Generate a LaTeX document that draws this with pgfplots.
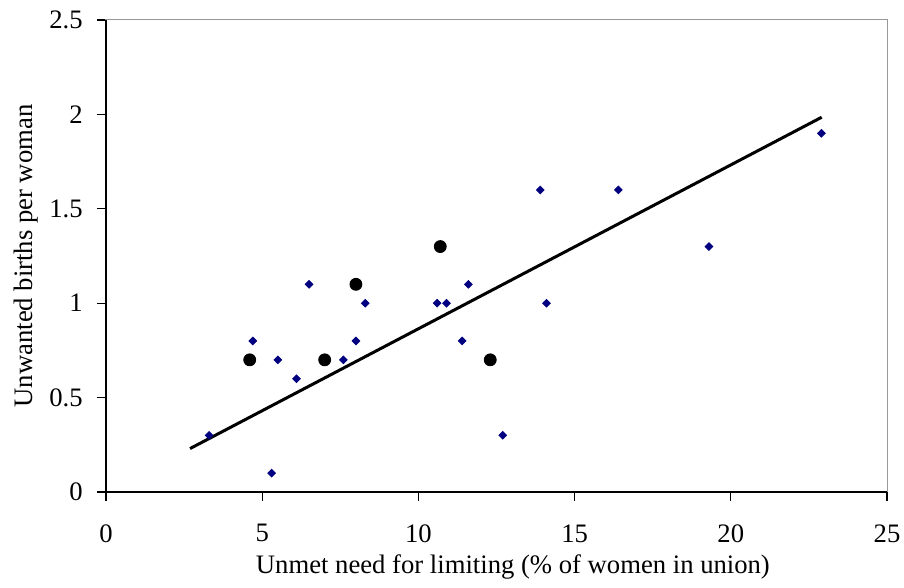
\documentclass[border=0pt]{standalone}
\usepackage{fontspec}
\setmainfont{Liberation Serif}
\usepackage{pgfplots}
\pgfplotsset{compat=1.18}
\definecolor{navy}{HTML}{000080}
\begin{document}
\fontsize{13.33}{16}\selectfont
\begin{tikzpicture}
\begin{axis}[
  at={(0,0)}, anchor=south west,
  scale only axis,
  width=390.5pt, height=236pt,
  xmin=0, xmax=25, ymin=0, ymax=2.5,
  xtick={0,5,...,25}, ytick={0,0.5,...,2.5},
  xtick pos=bottom, ytick pos=left,
  tick align=outside,
  major tick length=4.5pt,
  tick style={black, line width=0.6pt},
  axis line style={draw=gray!80, line width=0.5pt},
  /pgf/number format/assume math mode=true,
  yticklabel style={/pgf/number format/fixed, anchor=east, inner sep=0pt, xshift=-7pt},
  xticklabel style={anchor=north, inner sep=0pt, yshift=-11.5pt},
  ticklabel style={font=\fontsize{13.33}{16}\selectfont},
  clip=false,
]
\addplot[only marks, mark=square*, mark size=1.35pt, mark options={rotate=45, fill=navy, draw=navy}] coordinates {
(3.3,0.3) (4.7,0.8) (5.5,0.7) (5.3,0.1) (6.1,0.6) (6.5,1.1) (7.6,0.7) (8.0,0.8) (8.3,1.0)
(10.6,1.0) (10.9,1.0) (11.6,1.1) (11.4,0.8) (12.7,0.3) (13.9,1.6) (14.1,1.0) (16.4,1.6)
(19.3,1.3) (22.9,1.9)
};
\addplot[only marks, mark=*, mark size=3pt, mark options={fill=black, draw=black}] coordinates {
(4.6,0.7) (7.0,0.7) (8.0,1.1) (10.7,1.3) (12.3,0.7)
};
\addplot[black, line width=1.5pt, no marks] coordinates {(2.69,0.23) (22.91,1.985)};
\draw[black, line width=0.75pt] (rel axis cs:0,1) -- (rel axis cs:0,0) -- (rel axis cs:1,0);
\node[anchor=base, font=\fontsize{13.33}{16}\selectfont] at ([yshift=-40.5pt]rel axis cs:0.521,0) {Unmet need for limiting (\% of women in union)};
\node[anchor=base, rotate=90, font=\fontsize{13.33}{16}\selectfont] at ([xshift=-36.5pt]rel axis cs:0,0.5) {Unwanted births per woman};
\end{axis}
\useasboundingbox (-53pt,-47.5pt) rectangle (399pt,246pt);
\end{tikzpicture}
\end{document}
